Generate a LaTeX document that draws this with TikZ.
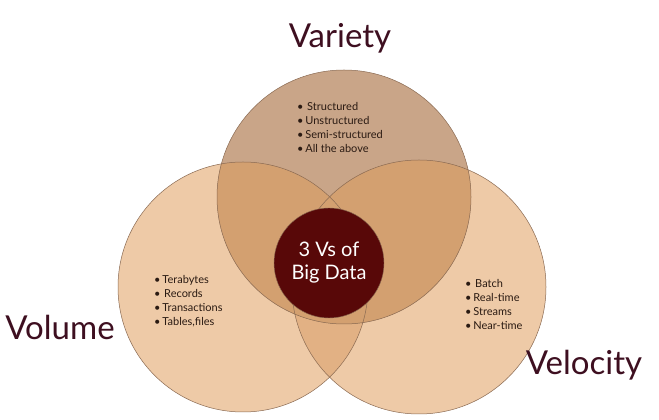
\documentclass[tikz,border=0pt]{standalone}
\usepackage{fontspec}
\setmainfont{Lato}
\definecolor{titlecol}{HTML}{3E0F20}
\definecolor{lightc}{HTML}{EECAA7}
\definecolor{lrc}{HTML}{E2B184}
\definecolor{topc}{HTML}{C9A588}
\definecolor{tlc}{HTML}{D3A070}
\definecolor{darkc}{HTML}{580808}
\definecolor{edgec}{HTML}{8A6A52}
\definecolor{txtc}{HTML}{2A1A12}
\tikzset{
  vtitle/.style={text=titlecol, font=\fontsize{33}{36}\selectfont, inner sep=0pt},
  vlist/.style={text=txtc, font=\fontsize{11}{14}\selectfont, align=left, anchor=north west, inner sep=0pt},
  ring/.style={draw=edgec, line width=0.5pt}
}
\begin{document}
\begin{tikzpicture}[x=1pt,y=1pt]
\useasboundingbox (0,0) rectangle (659,420);
\fill[white] (0,0) rectangle (659,420);
% base circles
\fill[lightc] (243,133) circle (125);
\fill[lightc] (419,133) circle (127);
\begin{scope}
  \clip (243,133) circle (125);
  \fill[lrc] (419,133) circle (127);
\end{scope}
\fill[topc] (344,223) circle (127);
\begin{scope}
  \clip (344,223) circle (127);
  \fill[tlc] (243,133) circle (125);
  \fill[tlc] (419,133) circle (127);
\end{scope}
\draw[ring] (243,133) circle (125);
\draw[ring] (419,133) circle (127);
\draw[ring] (344,223) circle (127);
% centre
\node[circle, fill=darkc, draw=edgec, line width=0.4pt, minimum size=110pt, inner sep=0pt,
      text=white, align=center, font=\fontsize{20}{23}\selectfont] (core) at (329,157) {3 Vs of\\Big Data};
% titles
\node[vtitle] (variety) at (340,382) {Variety};
\node[vtitle] (volume) at (60,93) {Volume};
\node[vtitle] (velocity) at (584,55) {Velocity};
% lists
\node[vlist] (l1) at (297,318) {•\,\,Structured\\•\,Unstructured\\•\,Semi-structured\\•\,All the above};
\node[vlist] (l2) at (154,145) {•\,Terabytes\\•\,\,Records\\•\,Transactions\\•\,Tables,files};
\node[vlist] (l3) at (465,141) {•\,\,Batch\\•\,Real-time\\•\,Streams\\•\,Near-time};
\end{tikzpicture}
\end{document}
